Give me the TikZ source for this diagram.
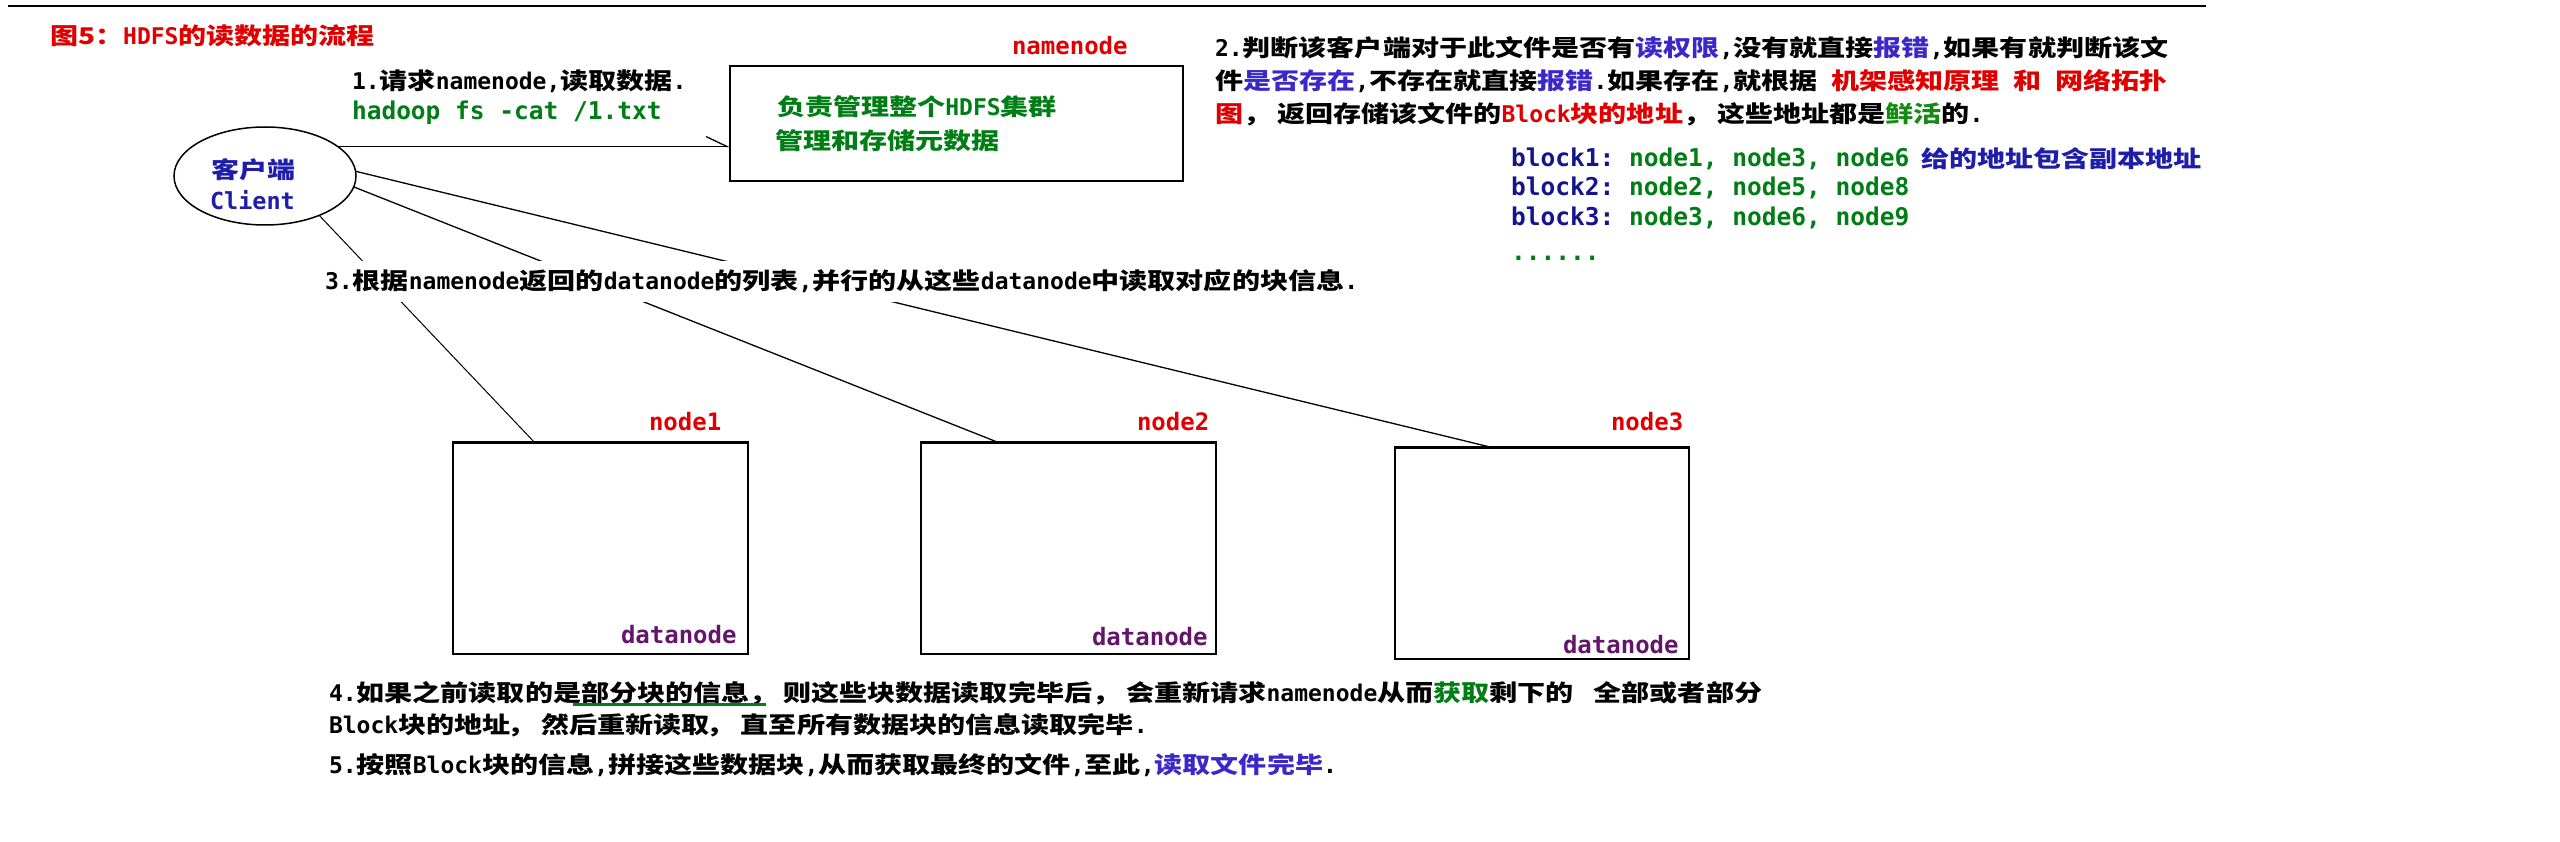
\documentclass[tikz,border=0pt]{standalone}
\usepackage{fontspec}
\newfontfamily\cjk{Noto Sans CJK SC}[FakeStretch=1.22]
\newfontfamily\mono{DejaVu Sans Mono}
\usetikzlibrary{shapes.geometric,arrows.meta,calc}
\pgfdeclarelayer{bg}
\pgfsetlayers{bg,main}
\newcommand\fz[1]{\fontsize{#1}{#1}\selectfont}
\newcommand\m[1]{{\mono\bfseries\fz{23}#1}}
\newcommand\cm{，\hspace{6pt}}
\definecolor{cred}{RGB}{225,0,0}
\definecolor{cgreen}{RGB}{0,125,20}
\definecolor{cgreenb}{RGB}{20,140,20}
\definecolor{cblue}{RGB}{30,30,170}
\definecolor{cblueb}{RGB}{60,40,200}
\definecolor{cdblue}{RGB}{20,20,140}
\definecolor{cpurple}{RGB}{100,20,105}
\tikzset{
  txt/.style={inner sep=0pt, outer sep=0pt, anchor=base west, font=\cjk\bfseries\fz{23}},
  mtxt/.style={inner sep=0pt, outer sep=0pt, anchor=base west, font=\mono\bfseries\fz{24.5}},
  conn/.style={draw=black, line width=1.3pt},
  dbox/.style={draw, line width=1.5pt, minimum width=295pt, minimum height=212pt, inner sep=0pt, outer sep=0pt},
  topedge/.style={line width=3pt},
}
\begin{document}
\begin{tikzpicture}[x=1pt,y=-1pt]
\useasboundingbox (0,0) rectangle (2560,842);
% top rule
\coordinate (ruleL) at (8,6);
\coordinate (ruleR) at (2206,6);
\draw[line width=2.7pt] (ruleL) -- (ruleR);
% title
\node[txt, text=cred] (title) at (50,45) {图5：\m{HDFS}的读数据的流程};
% client
\node[ellipse, draw, line width=1.5pt, minimum width=182pt, minimum height=98pt, inner sep=0pt, outer sep=0pt] (client) at (265,176) {};
\node[txt, text=cblue] (cl1) at (211,179) {客户端};
\node[mtxt, text=cblue, font=\mono\bfseries\fz{23.5}] (cl2) at (210,210) {Client};
% namenode
\node[draw, line width=2pt, minimum width=453pt, minimum height=115pt, inner sep=0pt, outer sep=0pt] (nn) at (956.5,123.5) {};
\node[mtxt, text=cred, font=\mono\bfseries\fz{24}] (nnlab) at (1012,55) {namenode};
\node[txt, text=cgreen] (nnt1) at (777,116) {负责管理整个\m{HDFS}集群};
\node[txt, text=cgreen] (nnt2) at (775,150) {管理和存储元数据};
% step 1
\node[txt] (s1a) at (352,90) {\m{1.}请求\m{namenode,}读取数据\m{.}};
\node[mtxt, text=cgreen] (s1b) at (352,120) {hadoop fs -cat /1.txt};
% step 2
\node[txt] (s2a) at (1215,57) {\m{2.}判断该客户端对于此文件是否有\textcolor{cblueb}{读权限}\m{,}没有就直接\textcolor{cblueb}{报错}\m{,}如果有就判断该文};
\node[txt] (s2b) at (1215,90) {件\textcolor{cblueb}{是否存在}\m{,}不存在就直接\textcolor{cblueb}{报错}\m{.}如果存在\m{,}就根据\m{\ }\textcolor{cred}{机架感知原理\m{\ }和\m{\ }网络拓扑}};
\node[txt] (s2c) at (1215,123) {\textcolor{cred}{图}\cm 返回存储该文件的\textcolor{cred}{\m{Block}块的地址}\cm 这些地址都是\textcolor{cgreenb}{鲜活}的\m{.}};
\node[mtxt] (b1) at (1511,167) {\textcolor{cdblue}{block1:}\ \textcolor{cgreen}{node1, node3, node6}};
\node[mtxt] (b2) at (1511,196) {\textcolor{cdblue}{block2:}\ \textcolor{cgreen}{node2, node5, node8}};
\node[mtxt] (b3) at (1511,226) {\textcolor{cdblue}{block3:}\ \textcolor{cgreen}{node3, node6, node9}};
\node[mtxt, text=cgreen] (b4) at (1511,261) {......};
\node[txt, text=cblue] (bnote) at (1921,168) {给的地址包含副本地址};
% step 3
\node[txt, fill=white, inner xsep=6pt, inner ysep=9pt] (s3) at (319,290) {\m{3.}根据\m{namenode}返回的\m{datanode}的列表\m{,}并行的从这些\m{datanode}中读取对应的块信息\m{.}};
% datanodes
\node[dbox] (dn1) at (600.5,548) {};
\node[dbox] (dn2) at (1068.5,548) {};
\node[dbox, minimum width=294pt] (dn3) at (1542,553) {};
\draw[topedge] (dn1.north west) -- (dn1.north east);
\draw[topedge] (dn2.north west) -- (dn2.north east);
\draw[topedge] (dn3.north west) -- (dn3.north east);
\node[mtxt, text=cred, font=\mono\bfseries\fz{24}] (l1) at (649,430) {node1};
\node[mtxt, text=cred, font=\mono\bfseries\fz{24}] (l2) at (1137,430) {node2};
\node[mtxt, text=cred, font=\mono\bfseries\fz{24}] (l3) at (1611,430) {node3};
\node[mtxt, text=cpurple, font=\mono\bfseries\fz{24}] (d1) at (621,643) {datanode};
\node[mtxt, text=cpurple, font=\mono\bfseries\fz{24}] (d2) at (1092,645) {datanode};
\node[mtxt, text=cpurple, font=\mono\bfseries\fz{24}] (d3) at (1563,653) {datanode};
% step 4, 5
\node[txt] (s4a) at (329,701) {\m{4.}如果之前读取的是部分块的信息\cm 则这些块数据读取完毕后\cm 会重新请求\m{namenode}从而\textcolor{cgreen}{获取}剩下的\hspace{20pt}全部或者部分};
\node[txt] (s4b) at (329,733) {\m{Block}块的地址\hspace{-3pt}\cm 然后重新读取\hspace{-3pt}\cm 直至所有数据块的信息读取完毕\m{.}};
\node[txt] (s5) at (329,773) {\m{5.}按照\m{Block}块的信息\m{,}拼接这些数据块\m{,}从而获取最终的文件\m{,}至此\m{,}\textcolor{cblueb}{读取文件完毕}\m{.}};
\coordinate (ulA) at (573,704);
\coordinate (ulB) at (766,704);
\draw[cgreen, line width=3pt] (ulA) -- (ulB);
% connectors
\begin{pgfonlayer}{bg}
\draw[conn, -{Straight Barb[left, length=21pt, width=20pt]}] (client.22) -- (client.22 -| nn.west);
\draw[conn, line width=1pt] (client.-36) -- ($(dn1.north west)!0.275!(dn1.north east)$);
\draw[conn] (client.-7) -- ($(dn2.north west)!0.258!(dn2.north east)$);
\draw[conn] (client.3) -- ($(dn3.north west)!0.323!(dn3.north east)$);
\end{pgfonlayer}
\end{tikzpicture}
\end{document}
